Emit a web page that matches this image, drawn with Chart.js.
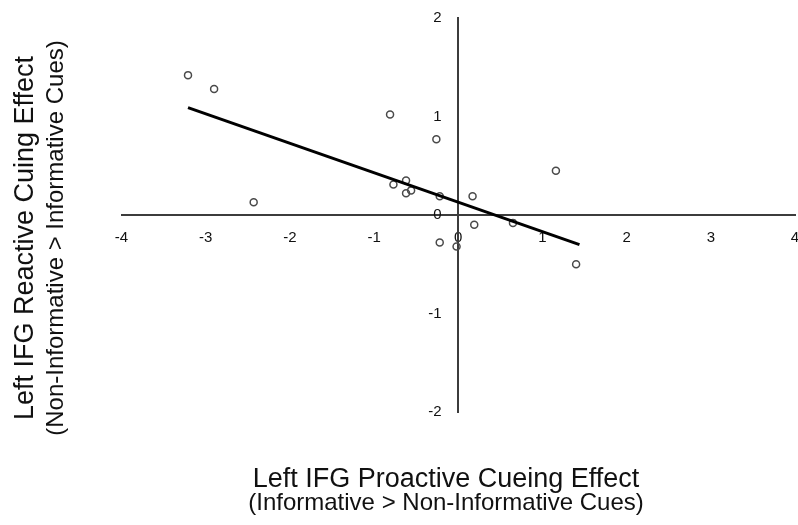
<!DOCTYPE html>
<html>
<head>
<meta charset="utf-8">
<script src="https://cdn.jsdelivr.net/npm/chart.js@4.4.1/dist/chart.umd.min.js"></script>
<style>
  html, body { margin: 0; padding: 0; background: #fff; }
  #wrap { width: 798px; height: 525px; }
</style>
</head>
<body>
<div id="wrap"><canvas id="myChart" width="798" height="525"></canvas></div>
<script>
// proactive (x) vs reactive (y) cueing effect, one value per subject
let proactive = [-3.21, -2.90, -2.43, -0.81, -0.26, -0.77, -0.62, -0.62, -0.56, -0.22, -0.22, -0.02, 0.17, 0.19, 0.65, 1.16, 1.40];
let reactive = [1.42, 1.28, 0.13, 1.02, 0.77, 0.31, 0.35, 0.22, 0.25, 0.19, -0.28, -0.32, 0.19, -0.10, -0.08, 0.45, -0.50];

// fitted line end points
let fitX = [-3.21, 1.44];
let fitY = [1.09, -0.30];

let xTicks = [-4, -3, -2, -1, 0, 1, 2, 3, 4];
let yTicks = [-2, -1, 0, 1, 2];

let xTitle = 'Left IFG Proactive Cueing Effect';
let xSubTitle = '(Informative > Non-Informative Cues)';
let yTitle = 'Left IFG Reactive Cuing Effect';
let ySubTitle = '(Non-Informative > Informative Cues)';

let ctx = document.getElementById('myChart').getContext('2d');
let fontFamily = '"Liberation Sans", Arial, sans-serif';

let points = proactive.map((x, i) => ({ x: x, y: reactive[i] }));
let fitLine = fitX.map((x, i) => ({ x: x, y: fitY[i] }));

// axis titles have two lines with different sizes, so draw them by hand
let axisTitles = {
    id: 'axisTitles',
    afterDraw: (chart) => {
        let c = chart.ctx;
        c.save();
        c.fillStyle = '#111';
        c.textAlign = 'center';
        c.textBaseline = 'alphabetic';
        c.font = '27px ' + fontFamily;
        c.fillText(xTitle, 446, 487);
        c.font = '24px ' + fontFamily;
        c.fillText(xSubTitle, 446, 510);

        c.translate(0, 238);
        c.rotate(-Math.PI / 2);
        c.font = '27px ' + fontFamily;
        c.fillText(yTitle, 0, 33);
        c.font = '24px ' + fontFamily;
        c.fillText(ySubTitle, 0, 63);
        c.restore();
    }
};

// the axes sit inside the plot, keep them from shrinking it
let noPadding = (scale) => {
    scale.paddingLeft = 0;
    scale.paddingRight = 0;
    scale.paddingTop = 0;
    scale.paddingBottom = 0;
};

let myChart = new Chart(ctx, {
    type: 'scatter',
    data: {
        datasets: [{
            data: points,
            pointRadius: 3.5,
            pointHoverRadius: 3.5,
            pointBackgroundColor: 'rgba(255,255,255,0)',
            pointBorderColor: '#4a4a4a',
            pointBorderWidth: 1.5,
            order: 2
        }, {
            type: 'line',
            data: fitLine,
            showLine: true,
            borderColor: '#000',
            borderWidth: 3,
            pointRadius: 0,
            fill: false,
            order: 1
        }]
    },
    options: {
        responsive: false,
        animation: false,
        layout: {
            autoPadding: false,
            padding: { left: 121.5, right: 3, top: 18, bottom: 113 }
        },
        plugins: {
            legend: { display: false },
            tooltip: { enabled: false }
        },
        scales: {
            x: {
                type: 'linear',
                min: -4,
                max: 4,
                position: { y: 0 },
                afterBuildTicks: (axis) => { axis.ticks = xTicks.map(v => ({ value: v })); },
                afterFit: noPadding,
                grid: { display: false, drawTicks: false },
                border: { display: true, color: '#3c3c3c', width: 2 },
                ticks: {
                    padding: 14,
                    color: '#111',
                    font: { family: fontFamily, size: 15 },
                    maxRotation: 0
                }
            },
            y: {
                type: 'linear',
                min: -2,
                max: 2,
                position: { x: 0 },
                afterBuildTicks: (axis) => { axis.ticks = yTicks.map(v => ({ value: v })); },
                afterFit: noPadding,
                grid: { display: false, drawTicks: false },
                border: { display: true, color: '#3c3c3c', width: 2 },
                ticks: {
                    color: '#111',
                    font: { family: fontFamily, size: 15 },
                    // labels are right aligned on the axis line, spaces push them off it
                    callback: (v) => v + '    '
                }
            }
        }
    },
    plugins: [axisTitles]
});
</script>
</body>
</html>
